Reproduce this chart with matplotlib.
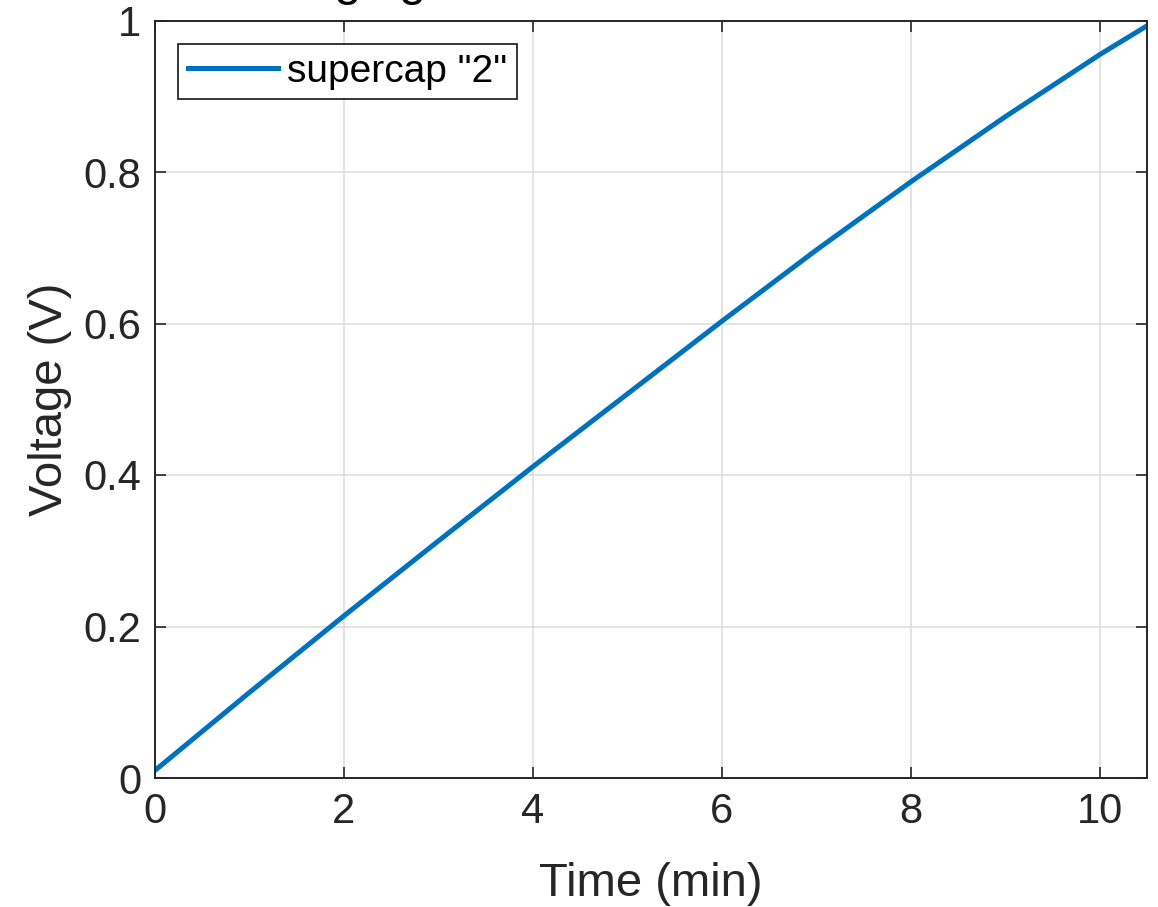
import matplotlib
matplotlib.use("Agg")
import matplotlib.pyplot as plt
from matplotlib import font_manager
import numpy as np

# values
time_min = [0, 1, 2, 3, 4, 5, 6, 7, 8, 9, 10, 10.5]
voltage = [0.010, 0.113, 0.214, 0.313, 0.411, 0.507, 0.603, 0.697, 0.787, 0.873, 0.955, 0.993]
xticks = [0, 2, 4, 6, 8, 10]
yticks = [0, 0.2, 0.4, 0.6, 0.8, 1]
ytick_labels = ['0', '0.2', '0.4', '0.6', '0.8', '1']

names = {f.name for f in font_manager.fontManager.ttflist}
fam = 'Liberation Sans Narrow' if 'Liberation Sans Narrow' in names else 'Liberation Sans'
plt.rcParams['font.family'] = [fam, 'DejaVu Sans']

axc = '#262626'
fig = plt.figure(figsize=(11.58, 9.07), dpi=100)
ax = fig.add_axes([155/1158, 1-778/907, (1147-155)/1158, (778-20.5)/907])

ax.plot(time_min, voltage, color='#0072BD', lw=3.6, label='supercap "2"')

ax.set_xlim(0, 10.5)
ax.set_ylim(0, 1)
ax.set_xticks(xticks)
ax.set_yticks(yticks)
ax.set_yticklabels(ytick_labels)
ax.grid(True, color='#dedede', lw=1.2)
ax.set_axisbelow(True)
ax.tick_params(direction='in', length=8, width=1.2, colors=axc, labelcolor=axc,
               labelsize=30, top=True, right=True, pad=10)
for s in ax.spines.values():
    s.set_color(axc)
    s.set_linewidth(1.4)

ax.set_xlabel('Time (min)', fontsize=34, color=axc, labelpad=22)
ax.set_ylabel('Voltage (V)', fontsize=34, color=axc, labelpad=8)

leg = ax.legend(loc='upper left', fontsize=28, handlelength=2.3, handletextpad=0.25,
                borderpad=0.25, borderaxespad=0.6, frameon=True, fancybox=False)
leg.get_frame().set_edgecolor(axc)
leg.get_frame().set_linewidth(1.3)
leg.get_frame().set_alpha(1)

# title is cut off at the top of the picture, only the g descenders show
fig.text(230/1158, 1+5/907, 'Charging', fontsize=35, color='black',
         ha='left', va='baseline')

fig.savefig('out.png', dpi=100, facecolor='white')
